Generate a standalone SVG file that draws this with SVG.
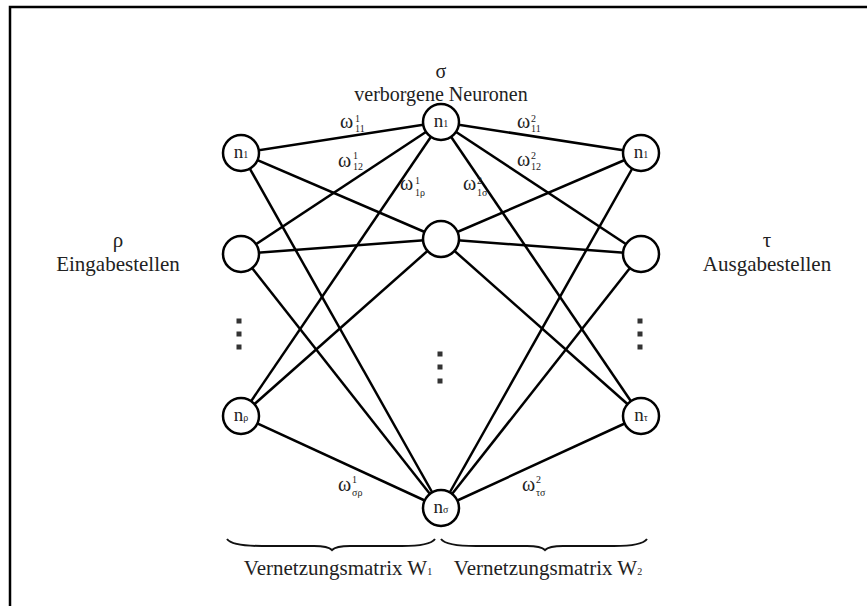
<svg xmlns="http://www.w3.org/2000/svg" width="867" height="606" viewBox="0 0 867 606">
<style>
.lbl{font-family:"Liberation Serif","Times New Roman",serif;font-size:21px;fill:#222}
.top{font-size:20px}
.nd{fill:#fff;stroke:#000;stroke-width:2.5}
.nt{font-family:"Liberation Serif","Times New Roman",serif;font-size:19px;fill:#222;text-anchor:middle}
.sm{font-size:10px}
.w{font-family:"Liberation Serif","Times New Roman",serif;font-size:20px;fill:#222}
.ix{font-size:10px}
.e{stroke:#000;stroke-width:2.5;fill:none}
.dot{fill:#333}
.brace{fill:none;stroke:#111;stroke-width:2}
</style>
<rect x="10" y="7" width="900" height="700" fill="none" stroke="#000" stroke-width="2.5"/>
<g id="connectors">
<line class="e" x1="241" y1="153" x2="441" y2="122"/>
<line class="e" x1="241" y1="153" x2="441" y2="239"/>
<line class="e" x1="241" y1="153" x2="441" y2="508"/>
<line class="e" x1="241" y1="254" x2="441" y2="122"/>
<line class="e" x1="241" y1="254" x2="441" y2="239"/>
<line class="e" x1="241" y1="254" x2="441" y2="508"/>
<line class="e" x1="241" y1="416" x2="441" y2="122"/>
<line class="e" x1="241" y1="416" x2="441" y2="239"/>
<line class="e" x1="241" y1="416" x2="441" y2="508"/>
<line class="e" x1="441" y1="122" x2="641" y2="153"/>
<line class="e" x1="441" y1="122" x2="641" y2="254"/>
<line class="e" x1="441" y1="122" x2="641" y2="416"/>
<line class="e" x1="441" y1="239" x2="641" y2="153"/>
<line class="e" x1="441" y1="239" x2="641" y2="254"/>
<line class="e" x1="441" y1="239" x2="641" y2="416"/>
<line class="e" x1="441" y1="508" x2="641" y2="153"/>
<line class="e" x1="441" y1="508" x2="641" y2="254"/>
<line class="e" x1="441" y1="508" x2="641" y2="416"/>
</g>
<g id="weights">
<text class="w"><tspan x="340" y="128">ω</tspan><tspan class="ix" x="355" y="122">1</tspan><tspan class="ix" x="355" y="132">11</tspan></text>
<text class="w"><tspan x="338" y="167">ω</tspan><tspan class="ix" x="353" y="159">1</tspan><tspan class="ix" x="353" y="170">12</tspan></text>
<text class="w"><tspan x="400" y="190">ω</tspan><tspan class="ix" x="415" y="184">1</tspan><tspan class="ix" x="415" y="196">1ρ</tspan></text>
<text class="w"><tspan x="517" y="128">ω</tspan><tspan class="ix" x="531" y="122">2</tspan><tspan class="ix" x="531" y="132">11</tspan></text>
<text class="w"><tspan x="517" y="166">ω</tspan><tspan class="ix" x="531" y="159">2</tspan><tspan class="ix" x="531" y="170">12</tspan></text>
<text class="w"><tspan x="463" y="190">ω</tspan><tspan class="ix" x="477" y="184">2</tspan><tspan class="ix" x="477" y="196">1σ</tspan></text>
<text class="w"><tspan x="338" y="491">ω</tspan><tspan class="ix" x="352" y="483">1</tspan><tspan class="ix" x="352" y="496">σρ</tspan></text>
<text class="w"><tspan x="522" y="491">ω</tspan><tspan class="ix" x="536" y="483">2</tspan><tspan class="ix" x="536" y="496">τσ</tspan></text>
</g>
<g id="in1"><circle class="nd" cx="241" cy="153" r="18"/><text class="nt" x="241" y="158">n<tspan class="sm">1</tspan></text></g>
<g id="in2"><circle class="nd" cx="241" cy="254" r="18"/></g>
<g id="inp"><circle class="nd" cx="241" cy="416" r="18"/><text class="nt" x="241" y="421">n<tspan class="sm">ρ</tspan></text></g>
<g id="hn1"><circle class="nd" cx="441" cy="122" r="18"/><text class="nt" x="441" y="127">n<tspan class="sm">1</tspan></text></g>
<g id="hn2"><circle class="nd" cx="441" cy="239" r="18"/></g>
<g id="hns"><circle class="nd" cx="441" cy="508" r="18"/><text class="nt" x="441" y="513">n<tspan class="sm">σ</tspan></text></g>
<g id="on1"><circle class="nd" cx="641" cy="153" r="18"/><text class="nt" x="641" y="158">n<tspan class="sm">1</tspan></text></g>
<g id="on2"><circle class="nd" cx="641" cy="254" r="18"/></g>
<g id="ont"><circle class="nd" cx="641" cy="416" r="18"/><text class="nt" x="641" y="421">n<tspan class="sm">τ</tspan></text></g>
<g id="dots">
<rect class="dot" x="236.5" y="318.5" width="5" height="5"/>
<rect class="dot" x="236.5" y="331.5" width="5" height="5"/>
<rect class="dot" x="236.5" y="344.5" width="5" height="5"/>
<rect class="dot" x="437.5" y="351.5" width="5" height="5"/>
<rect class="dot" x="437.5" y="364.5" width="5" height="5"/>
<rect class="dot" x="437.5" y="378.5" width="5" height="5"/>
<rect class="dot" x="637.5" y="318.5" width="5" height="5"/>
<rect class="dot" x="637.5" y="331.5" width="5" height="5"/>
<rect class="dot" x="637.5" y="344.5" width="5" height="5"/>
</g>
<g id="labels" class="lbl" text-anchor="middle">
<text class="top" x="441" y="78">σ</text>
<text class="top" x="441" y="101">verborgene Neuronen</text>
<text x="118" y="247">ρ</text>
<text x="118" y="271">Eingabestellen</text>
<text x="767" y="247">τ</text>
<text x="767" y="271">Ausgabestellen</text>
<text x="338" y="575">Vernetzungsmatrix W<tspan class="sm" font-size="11px">1</tspan></text>
<text x="548" y="575">Vernetzungsmatrix W<tspan class="sm" font-size="11px">2</tspan></text>
</g>
<g id="braces">
<path class="brace" d="M227,539 Q232,546 262,546 L314,546 Q328,546 332,550 Q336,546 350,546 L402,546 Q430,546 435,539"/>
<path class="brace" d="M441,539 Q446,546 476,546 L527,546 Q541,546 545,550 Q549,546 563,546 L614,546 Q642,546 647,539"/>
</g>
</svg>
